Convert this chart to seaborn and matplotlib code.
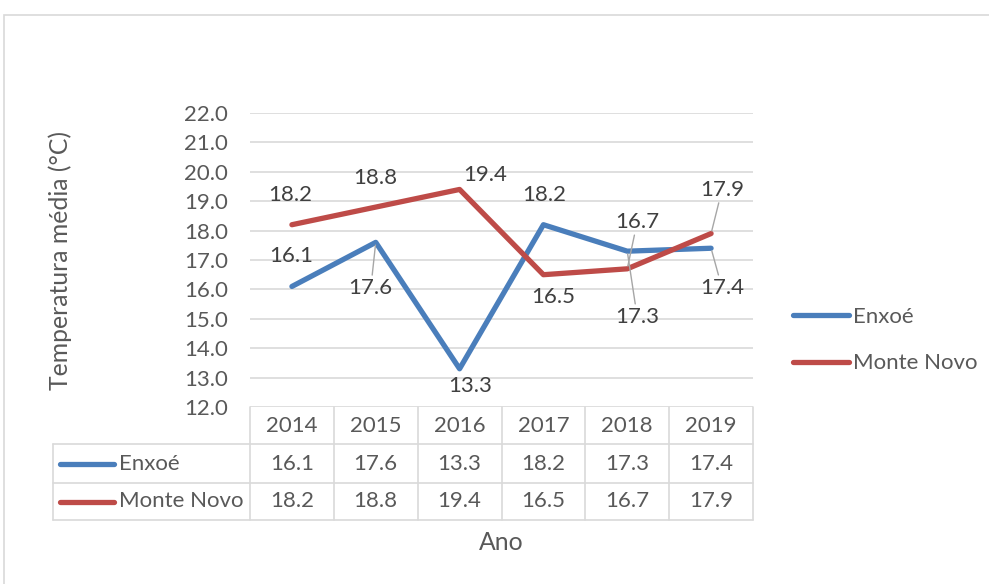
import matplotlib
matplotlib.use("Agg")
import matplotlib.pyplot as plt
import pandas as pd
import seaborn as sns
from matplotlib.lines import Line2D
from matplotlib.patches import Rectangle
from matplotlib.transforms import blended_transform_factory

# ---- data -------------------------------------------------------------
years = ["2014", "2015", "2016", "2017", "2018", "2019"]
enxoe = [16.1, 17.6, 13.3, 18.2, 17.3, 17.4]
monte_novo = [18.2, 18.8, 19.4, 16.5, 16.7, 17.9]
series_names = ["Enxoé", "Monte Novo"]
y_ticks = [12.0, 13.0, 14.0, 15.0, 16.0, 17.0, 18.0, 19.0, 20.0, 21.0, 22.0]

# ---- style ------------------------------------------------------------
BLUE = "#4A7EBB"
RED = "#BE4B48"
TEXT = "#595959"
LABEL = "#404040"
GRID = "#D9D9D9"
FS = 16        # ticks, labels, legend, table
FS_TITLE = 17.8  # axis titles

sns.set_theme(style="white")
plt.rcParams["font.family"] = ["Lato", "DejaVu Sans"]
plt.rcParams["text.color"] = TEXT

W, H = 989, 584
fig = plt.figure(figsize=(W / 100, H / 100), dpi=100)
ax = fig.add_axes([250 / W, 1 - 407 / H, 503 / W, 294 / H])

df = pd.DataFrame({
    "pos": list(range(len(years))) * 2,
    "valor": enxoe + monte_novo,
    "serie": [series_names[0]] * len(enxoe) + [series_names[1]] * len(monte_novo),
})

sns.lineplot(data=df, x="pos", y="valor", hue="serie", palette=[BLUE, RED],
             linewidth=3.8, sort=False, ax=ax)
for ln in ax.lines:
    ln.set_solid_capstyle("round")
    ln.set_solid_joinstyle("round")

# ---- axes -------------------------------------------------------------
ax.set_xlim(-0.5, len(years) - 0.5)
ax.set_ylim(y_ticks[0], y_ticks[-1])
ax.set_yticks(y_ticks)
ax.set_yticklabels([f"{t:.1f}" for t in y_ticks], fontsize=FS, color=TEXT)
ax.set_xticks([])
ax.tick_params(axis="y", length=0, pad=16)
ax.yaxis.grid(True, color=GRID, linewidth=1.2)
ax.xaxis.grid(False)
for s in ax.spines.values():
    s.set_visible(False)

ax.set_ylabel("Temperatura média (°C)", fontsize=FS_TITLE, color=TEXT)
ax.yaxis.set_label_coords((60 - 250) / 503, 0.5)
ax.yaxis.label.set_va("center")
ax.set_xlabel("Ano", fontsize=FS_TITLE, color=TEXT)
ax.xaxis.set_label_coords(0.5, -(543 - 407) / 294)
ax.xaxis.label.set_va("center")

# ---- data labels ------------------------------------------------------
# (dx, dy) offsets in pixels from the point, leader flag
enxoe_offsets = [(-1, 30, False), (-5, -46, True), (11, -17, False),
                 (1, 30, False), (10, -66, True), (11, -40, True)]
mn_offsets = [(-2, 30, False), (0, 29, False), (26, 14, False),
              (10, -22, False), (10, 47, True), (11, 44, True)]

for values, offsets in ((enxoe, enxoe_offsets), (monte_novo, mn_offsets)):
    for i, (v, (dx, dy, leader)) in enumerate(zip(values, offsets)):
        kw = {}
        if leader:
            kw["arrowprops"] = dict(arrowstyle="-", color="#A6A6A6", lw=1.0,
                                    shrinkA=0, shrinkB=2)
        ax.annotate(f"{v:.1f}", xy=(i, v), xytext=(dx, dy),
                    textcoords="offset pixels", ha="center", va="center",
                    fontsize=FS, color=LABEL, annotation_clip=False, **kw)

# ---- legend -----------------------------------------------------------
sns.move_legend(ax, "center left", bbox_to_anchor=(793 / W, 1 - 340 / H),
                bbox_transform=fig.transFigure, frameon=False, title=None,
                handlelength=2.5, handletextpad=0.22, labelspacing=1.2,
                borderpad=0, borderaxespad=0, fontsize=FS)
leg = ax.get_legend()
for h in leg.get_lines():
    h.set_linewidth(3.8)
    h.set_solid_capstyle("round")
for t in leg.get_texts():
    t.set_color(TEXT)

# ---- data table below the plot ---------------------------------------
bt = blended_transform_factory(ax.transData, ax.transAxes)
ah = 294.0
left_x = (53 - 250) / 503
rows_y = [0, -(444 - 407) / ah, -(483 - 407) / ah, -(520 - 407) / ah]
lkw = dict(color=GRID, linewidth=1.2, clip_on=False)

# vertical column rules
for k in range(len(years) + 1):
    ax.add_line(Line2D([k - 0.5, k - 0.5], [rows_y[0], rows_y[-1]],
                       transform=bt, **lkw))
ax.add_line(Line2D([left_x, left_x], [rows_y[1], rows_y[-1]],
                   transform=ax.transAxes, **lkw))
# horizontal rules
for y in rows_y[1:]:
    ax.add_line(Line2D([left_x, 1], [y, y], transform=ax.transAxes, **lkw))

# header: years
for i, yr in enumerate(years):
    ax.text(i, (rows_y[0] + rows_y[1]) / 2, yr, transform=bt,
            ha="center", va="center", fontsize=FS, color=TEXT)

# rows: legend key + values
key_x0, key_x1 = (60 - 250) / 503, (114 - 250) / 503
name_x = (119 - 250) / 503
for r, (name, values, col) in enumerate(zip(series_names, [enxoe, monte_novo], [BLUE, RED])):
    yc = (rows_y[r + 1] + rows_y[r + 2]) / 2
    ax.add_line(Line2D([key_x0, key_x1], [yc, yc], transform=ax.transAxes,
                       color=col, linewidth=3.8, solid_capstyle="round",
                       clip_on=False))
    ax.text(name_x, yc, name, transform=ax.transAxes, ha="left", va="center",
            fontsize=FS, color=TEXT)
    for i, v in enumerate(values):
        ax.text(i, yc, f"{v:.1f}", transform=bt, ha="center", va="center",
                fontsize=FS, color=TEXT)

ax.set_xlim(-0.5, len(years) - 0.5)
ax.set_ylim(y_ticks[0], y_ticks[-1])

# chart-area frame
fig.add_artist(Rectangle((4 / W, -0.05), 1.2, 1.05 - 15 / H,
                         transform=fig.transFigure, fill=False,
                         edgecolor=GRID, linewidth=1.2))

fig.savefig("out.png", dpi=100)
